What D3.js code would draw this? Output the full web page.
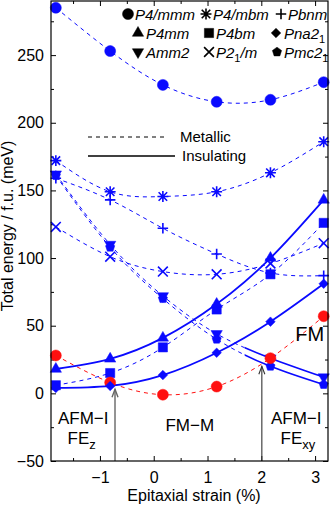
<!DOCTYPE html>
<html>
<head>
<meta charset="utf-8">
<script src="https://cdn.jsdelivr.net/npm/d3@7"></script>
<style>
  body { margin: 0; background: #fff; }
  svg { display: block; font-family: "Liberation Sans", Arial, sans-serif; }
</style>
</head>
<body>
<div id="chart"></div>
<script>
// Energy vs epitaxial strain
var strain = [-1.82, -0.81, 0.17, 1.17, 2.17, 3.16];

var p4mmm = [285, 253, 228, 215.5, 217, 230];
var p4mbm = [172, 149, 145.5, 149, 163, 186];
var pbnm  = [159, 143, 122, 103, 89, 87];
var p4mm  = [18, 25.5, 41, 66, 100, 143];
var p4bm  = [6, 15, 34, 62, 88, 126];
var pna21 = [4, 5.5, 13.5, 30, 53, 81];
var amm2  = [162, 110, 72, 44, 26, 12];
var p21m  = [123, 101, 90, 88, 96, 111];
var pmc21 = [161, 108, 70, 40, 20, 6.5];
var fm    = [28, 8, -1, 5, 26, 57];

// strain where Amm2 / Pmc21 turn insulating
var insulatingFrom = 1.69;

// vertical arrows (phase boundaries): strain and tip energy
var arrowStrain = [-0.72, 2.01];
var arrowTip = [3, 20];

var xTicks = [-1, 0, 1, 2, 3];
var xMinor = [-1.5, -0.5, 0.5, 1.5, 2.5];
var yTicks = [-50, 0, 50, 100, 150, 200, 250];
var yMinor = [-25, 25, 75, 125, 175, 225, 275];

var svgWidth = 330;
var svgHeight = 506;
var margin = { top: 1, right: 2, bottom: 45, left: 51 };
var width = svgWidth - margin.left - margin.right;
var height = svgHeight - margin.top - margin.bottom;

var blue = "#0a0aff";
var red = "#ff1010";

// custom marker shapes
var symPlus = { draw: function (c, s) { var r = Math.sqrt(s) / 2;
  c.moveTo(-r, 0); c.lineTo(r, 0); c.moveTo(0, -r); c.lineTo(0, r); } };
var symTimes = { draw: function (c, s) { var r = Math.sqrt(s) / 2 * 0.8;
  c.moveTo(-r, -r); c.lineTo(r, r); c.moveTo(-r, r); c.lineTo(r, -r); } };
var symStar = { draw: function (c, s) { symPlus.draw(c, s); symTimes.draw(c, s * 0.95); } };
var symPent = { draw: function (c, s) { var r = Math.sqrt(s) / 1.6;
  for (var i = 0; i < 5; i++) { var a = -Math.PI / 2 + i * 2 * Math.PI / 5;
    if (i === 0) c.moveTo(r * Math.cos(a), r * Math.sin(a)); else c.lineTo(r * Math.cos(a), r * Math.sin(a)); }
  c.closePath(); } };

var marks = {
  circle:  { type: d3.symbolCircle, size: 95, rot: 0, fill: true },
  star:    { type: symStar, size: 120, rot: 0, fill: false },
  plus:    { type: symPlus, size: 110, rot: 0, fill: false },
  tri:     { type: d3.symbolTriangle, size: 55, rot: 0, fill: true },
  square:  { type: d3.symbolSquare, size: 85, rot: 0, fill: true },
  diamond: { type: d3.symbolSquare, size: 45, rot: 45, fill: true },
  tridown: { type: d3.symbolTriangle, size: 55, rot: 180, fill: true },
  times:   { type: symTimes, size: 150, rot: 0, fill: false },
  pent:    { type: symPent, size: 60, rot: 0, fill: true }
};

var series = [
  { name: "P4/mmm", values: p4mmm, mark: "circle", color: blue, style: "dash" },
  { name: "P4/mbm", values: p4mbm, mark: "star", color: blue, style: "dash" },
  { name: "Pbnm", values: pbnm, mark: "plus", color: blue, style: "dash" },
  { name: "P2_1/m", values: p21m, mark: "times", color: blue, style: "dash" },
  { name: "P4bm", values: p4bm, mark: "square", color: blue, style: "dash" },
  { name: "Amm2", values: amm2, mark: "tridown", color: blue, style: "split" },
  { name: "Pmc2_1", values: pmc21, mark: "pent", color: blue, style: "split" },
  { name: "FM", values: fm, mark: "circle", color: red, style: "dash" },
  { name: "P4mm", values: p4mm, mark: "tri", color: blue, style: "solid" },
  { name: "Pna2_1", values: pna21, mark: "diamond", color: blue, style: "solid" }
];

var svg = d3.select("#chart").append("svg")
  .attr("width", svgWidth)
  .attr("height", svgHeight);

var chartGroup = svg.append("g")
  .attr("transform", `translate(${margin.left}, ${margin.top})`);

var xScale = d3.scaleLinear().domain([-1.91, 3.24]).range([0, width]);
var yScale = d3.scaleLinear().domain([-50, 290]).range([height, 0]);

// clip regions for metallic / insulating parts
var defs = svg.append("defs");
defs.append("clipPath").attr("id", "plot")
  .append("rect").attr("width", width).attr("height", height);
defs.append("clipPath").attr("id", "metal")
  .append("rect").attr("x", 0).attr("y", 0)
  .attr("width", xScale(insulatingFrom)).attr("height", height);
defs.append("clipPath").attr("id", "insul")
  .append("rect").attr("x", xScale(insulatingFrom)).attr("y", 0)
  .attr("width", width - xScale(insulatingFrom)).attr("height", height);

// axes with inward ticks on all sides
function styleAxis(g) {
  g.select(".domain").remove();
  g.selectAll("line").attr("stroke", "#000").attr("stroke-width", 1);
  g.selectAll("text").attr("font-size", "16px").attr("fill", "#000")
    .attr("font-family", "'Liberation Sans', Arial, sans-serif");
}

chartGroup.append("g")
  .attr("transform", `translate(0, ${height})`)
  .call(d3.axisBottom(xScale).tickValues(xTicks).tickFormat(d3.format("d"))
    .tickSizeInner(-5).tickSizeOuter(0).tickPadding(11))
  .call(styleAxis);
chartGroup.append("g")
  .attr("transform", `translate(0, ${height})`)
  .call(d3.axisBottom(xScale).tickValues(xMinor).tickSizeInner(-3).tickSizeOuter(0).tickFormat(""))
  .call(styleAxis);
chartGroup.append("g")
  .call(d3.axisTop(xScale).tickValues(xTicks).tickSizeInner(-5).tickSizeOuter(0).tickFormat(""))
  .call(styleAxis);
chartGroup.append("g")
  .call(d3.axisTop(xScale).tickValues(xMinor).tickSizeInner(-3).tickSizeOuter(0).tickFormat(""))
  .call(styleAxis);
chartGroup.append("g")
  .call(d3.axisLeft(yScale).tickValues(yTicks).tickSizeInner(-5).tickSizeOuter(0).tickPadding(7))
  .call(styleAxis);
chartGroup.append("g")
  .call(d3.axisLeft(yScale).tickValues(yMinor).tickSizeInner(-3).tickSizeOuter(0).tickFormat(""))
  .call(styleAxis);
chartGroup.append("g")
  .attr("transform", `translate(${width}, 0)`)
  .call(d3.axisRight(yScale).tickValues(yTicks).tickSizeInner(-5).tickSizeOuter(0).tickFormat(""))
  .call(styleAxis);
chartGroup.append("g")
  .attr("transform", `translate(${width}, 0)`)
  .call(d3.axisRight(yScale).tickValues(yMinor).tickSizeInner(-3).tickSizeOuter(0).tickFormat(""))
  .call(styleAxis);

// phase boundary arrows
arrowStrain.forEach(function (s, i) {
  var ax = xScale(s), ay = yScale(arrowTip[i]);
  var g = chartGroup.append("g").attr("stroke", i === 0 ? "#666" : "#333")
    .attr("stroke-width", i === 0 ? 1.4 : 1.1).attr("fill", "none");
  g.append("line").attr("x1", ax).attr("x2", ax).attr("y1", height).attr("y2", ay);
  g.append("path").attr("d", `M${ax - 3},${ay + 8}L${ax},${ay}L${ax + 3},${ay + 8}`);
});

// curves
var line = d3.line()
  .x(function (d, i) { return xScale(strain[i]); })
  .y(function (d) { return yScale(d); })
  .curve(d3.curveNatural);

var lines = chartGroup.append("g").attr("clip-path", "url(#plot)");
series.forEach(function (s) {
  var parts = [];
  if (s.style === "dash") parts.push({ dash: "4,4", clip: null, w: 1 });
  if (s.style === "solid") parts.push({ dash: null, clip: null, w: 1.8 });
  if (s.style === "split") {
    parts.push({ dash: "4,4", clip: "url(#metal)", w: 1 });
    parts.push({ dash: null, clip: "url(#insul)", w: 1.6 });
  }
  parts.forEach(function (p) {
    lines.append("g").attr("clip-path", p.clip)
      .append("path")
      .attr("d", line(s.values))
      .attr("fill", "none")
      .attr("stroke", s.color)
      .attr("stroke-width", p.w)
      .attr("stroke-dasharray", p.dash);
  });
});

// markers
function drawMark(g, m, color) {
  var mk = marks[m];
  g.append("path")
    .attr("d", d3.symbol().type(mk.type).size(mk.size)())
    .attr("transform", function () { return mk.rot ? `rotate(${mk.rot})` : null; })
    .attr("fill", mk.fill ? color : "none")
    .attr("stroke", color)
    .attr("stroke-width", mk.fill ? 0.5 : 1.6);
}

series.forEach(function (s) {
  chartGroup.append("g").selectAll("g")
    .data(s.values)
    .enter()
    .append("g")
    .attr("transform", function (d, i) { return `translate(${xScale(strain[i])}, ${yScale(d)})`; })
    .each(function () { drawMark(d3.select(this), s.mark, s.color); });
});

// frame
chartGroup.append("rect")
  .attr("width", width).attr("height", height)
  .attr("fill", "none").attr("stroke", "#000").attr("stroke-width", 1.2);

// legend (black markers, italic names)
var legendNames = [
  ["P4/mmm", "P4/mbm", "Pbnm"],
  ["P4mm", "P4bm", "Pna2_1"],
  ["Amm2", "P2_1/m", "Pmc2_1"]
];
var legendMarks = [["circle", "star", "plus"], ["tri", "square", "diamond"], ["tridown", "times", "pent"]];
var legendMarkX = [[128, 206, 281], [138, 209, 276], [138, 209, 277]];
var legendTextX = [[135, 213, 288], [146, 216, 284], [146, 216, 284]];
var legendY = [14, 33, 52];

legendNames.forEach(function (row, r) {
  row.forEach(function (name, c) {
    var mg = svg.append("g").attr("transform", `translate(${legendMarkX[r][c]}, ${legendY[r]})`);
    drawMark(mg, legendMarks[r][c], "#000");
    var t = svg.append("text")
      .attr("x", legendTextX[r][c]).attr("y", legendY[r] + 5.5)
      .attr("font-size", "15px").attr("font-style", "italic");
    var bits = name.split("_");
    t.append("tspan").text(bits[0]);
    if (bits.length > 1) {
      t.append("tspan").attr("font-size", "11px").attr("dy", 4).attr("font-style", "normal").text(bits[1].charAt(0));
      if (bits[1].length > 1) t.append("tspan").attr("dy", -4).text(bits[1].slice(1));
    }
  });
});

// line style legend
svg.append("line").attr("x1", 88).attr("x2", 168).attr("y1", 137).attr("y2", 137)
  .attr("stroke", "#000").attr("stroke-width", 1).attr("stroke-dasharray", "4,4");
svg.append("text").attr("x", 180).attr("y", 142).attr("font-size", "15px").text("Metallic");
svg.append("line").attr("x1", 88).attr("x2", 175).attr("y1", 156).attr("y2", 156)
  .attr("stroke", "#000").attr("stroke-width", 1.5);
svg.append("text").attr("x", 182).attr("y", 161).attr("font-size", "15px").text("Insulating");

// region labels
function label(x, y, txt, sub, size) {
  var t = chartGroup.append("text")
    .attr("x", xScale(x)).attr("y", yScale(y))
    .attr("text-anchor", "middle").attr("font-size", size + "px");
  t.append("tspan").text(txt);
  if (sub) t.append("tspan").attr("dy", 5).attr("font-size", (size - 4) + "px").text(sub);
}
label(-1.31, -23, "AFM\u2212I", null, 17);
label(-1.34, -37.5, "FE", "z", 17);
label(0.67, -28, "FM\u2212M", null, 17);
label(2.65, -23, "AFM\u2212I", null, 17);
label(2.68, -37.5, "FE", "xy", 17);
label(2.9, 38.5, "FM", null, 20);

// axis titles
svg.append("text")
  .attr("x", 194).attr("y", 501)
  .attr("text-anchor", "middle").attr("font-size", "16px")
  .text("Epitaxial strain (%)");
svg.append("text")
  .attr("transform", "rotate(-90)")
  .attr("x", -226).attr("y", 13)
  .attr("text-anchor", "middle").attr("font-size", "16px")
  .text("Total energy / f.u. (meV)");
</script>
</body>
</html>
